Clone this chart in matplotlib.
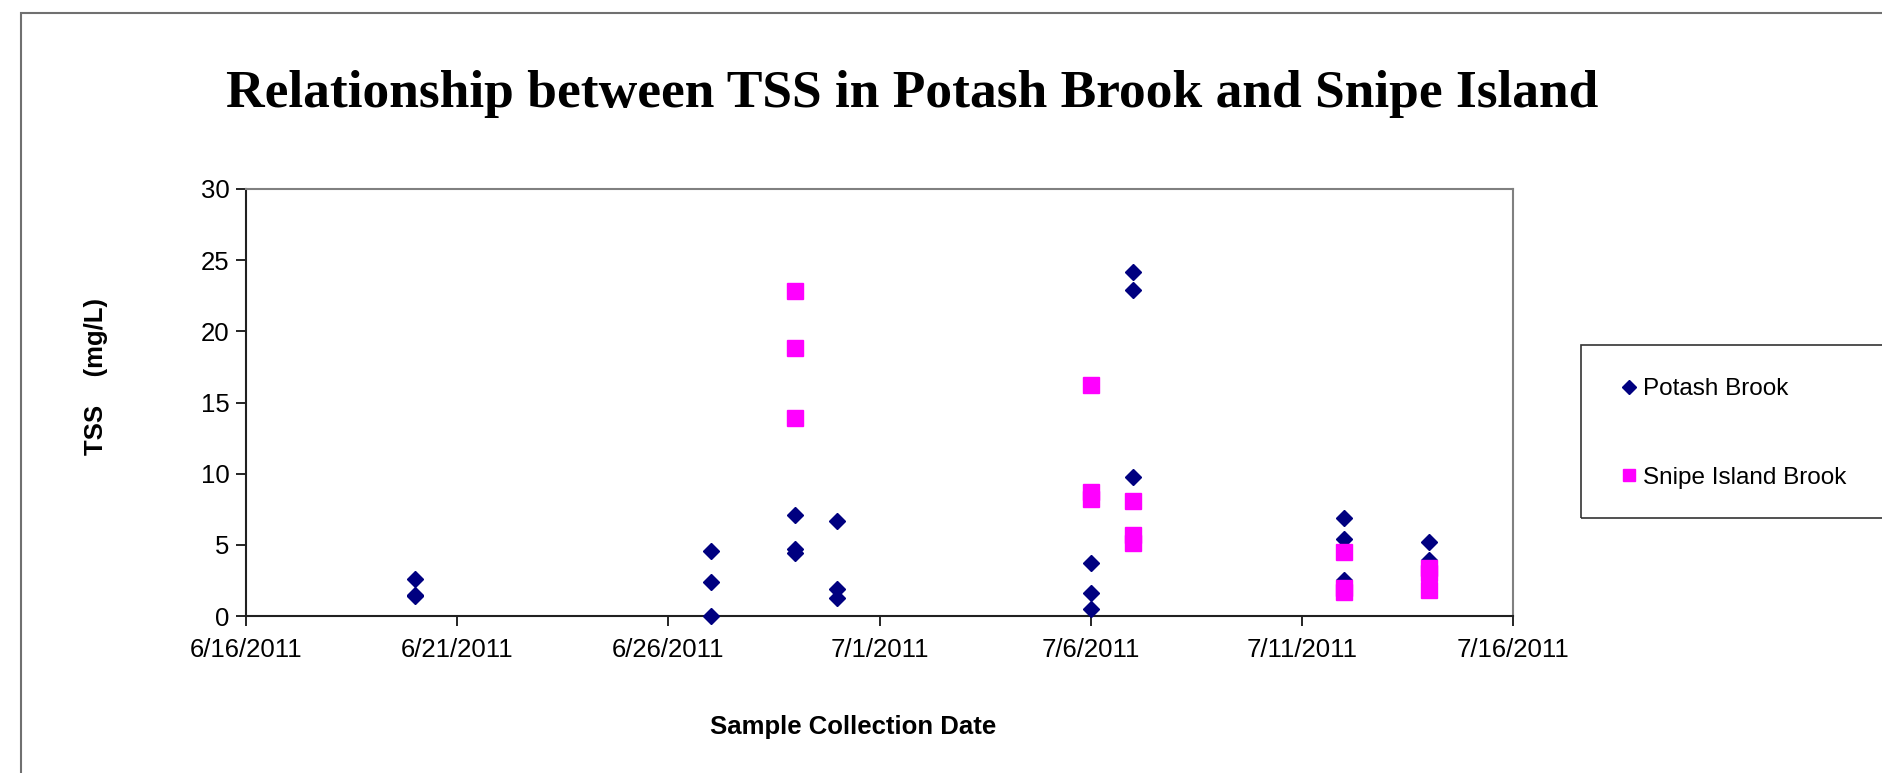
import matplotlib
matplotlib.use('Agg')
import matplotlib.pyplot as plt
from matplotlib.patches import Rectangle
from datetime import datetime, timedelta

potash_dates = ['2011-06-20'] * 3 + ['2011-06-27'] * 3 + ['2011-06-29'] * 3 + ['2011-06-30'] * 3 + \
               ['2011-07-06'] * 3 + ['2011-07-07'] * 3 + ['2011-07-12'] * 3 + ['2011-07-14'] * 3
potash_tss = [2.6, 1.5, 1.4,
              4.6, 2.4, 0.0,
              7.1, 4.7, 4.4,
              6.7, 1.9, 1.3,
              3.7, 1.6, 0.5,
              24.2, 22.9, 9.8,
              6.9, 5.4, 2.5,
              5.2, 3.9, 2.8]

snipe_dates = ['2011-06-29'] * 3 + ['2011-07-06'] * 3 + ['2011-07-07'] * 3 + \
              ['2011-07-12'] * 3 + ['2011-07-14'] * 3
snipe_tss = [22.8, 18.8, 13.9,
             16.2, 8.7, 8.2,
             8.1, 5.7, 5.1,
             4.5, 2.0, 1.7,
             3.4, 3.0, 1.8]

title = 'Relationship between TSS in Potash Brook and Snipe Island'
x_start, x_end = datetime(2011, 6, 16), datetime(2011, 7, 16)

plt.rcParams['font.family'] = ['Liberation Sans', 'DejaVu Sans']

fig = plt.figure(figsize=(18.83, 7.73), dpi=100)
ax = fig.add_axes([0.1306, 0.2031, 0.673, 0.5524])

pd_x = [datetime.strptime(d, '%Y-%m-%d') for d in potash_dates]
sd_x = [datetime.strptime(d, '%Y-%m-%d') for d in snipe_dates]

ax.plot(pd_x, potash_tss, linestyle='none', marker='D', markersize=8,
        color='#000080', label='Potash Brook', clip_on=False, zorder=3)
ax.plot(sd_x, snipe_tss, linestyle='none', marker='s', markersize=11,
        color='#FF00FF', label='Snipe Island Brook', clip_on=False, zorder=4)

ax.set_xlim(x_start, x_end)
ax.set_ylim(0, 30)
ax.set_yticks(range(0, 31, 5))
ticks = [x_start + timedelta(days=5 * i) for i in range(7)]
ax.set_xticks(ticks)
ax.set_xticklabels([f'{t.month}/{t.day}/{t.year}' for t in ticks])
ax.tick_params(axis='both', direction='out', length=7, width=1.2, labelsize=18.5,
               colors='black', pad=5)
ax.tick_params(axis='x', pad=8.5)
for side in ['left', 'bottom']:
    ax.spines[side].set_color('#202020')
    ax.spines[side].set_linewidth(1.5)
for side in ['top', 'right']:
    ax.spines[side].set_color('#808080')
    ax.spines[side].set_linewidth(1.5)

fig.text(912 / 1883, 1 - 94 / 773, title, ha='center', va='center',
         family='Liberation Serif', fontweight='bold', fontsize=38.5)
fig.text(853 / 1883, 1 - 727 / 773, 'Sample Collection Date', ha='center', va='center',
         fontweight='bold', fontsize=18.5)
fig.text(96 / 1883, 1 - 376 / 773, 'TSS    (mg/L)', ha='center', va='center',
         rotation=90, fontweight='bold', fontsize=18.5)

# outer chart border and legend box
fig.patches.append(Rectangle((21 / 1883, -0.1), 1.2, 1 - 13 / 773 + 0.1,
                             transform=fig.transFigure, fill=False,
                             edgecolor='#707070', linewidth=1.5))
fig.patches.append(Rectangle((1581 / 1883, 1 - 518 / 773), 0.3, 173 / 773,
                             transform=fig.transFigure, fill=False,
                             edgecolor='#333333', linewidth=1.2))
fig.legend(loc='upper left', bbox_to_anchor=(1617 / 1883, 1 - 378 / 773),
           frameon=False, fontsize=17.5, handletextpad=0.05, handlelength=1.0,
           labelspacing=2.75, markerscale=0.85, borderaxespad=0, borderpad=0)

fig.savefig('out.png', dpi=100)
